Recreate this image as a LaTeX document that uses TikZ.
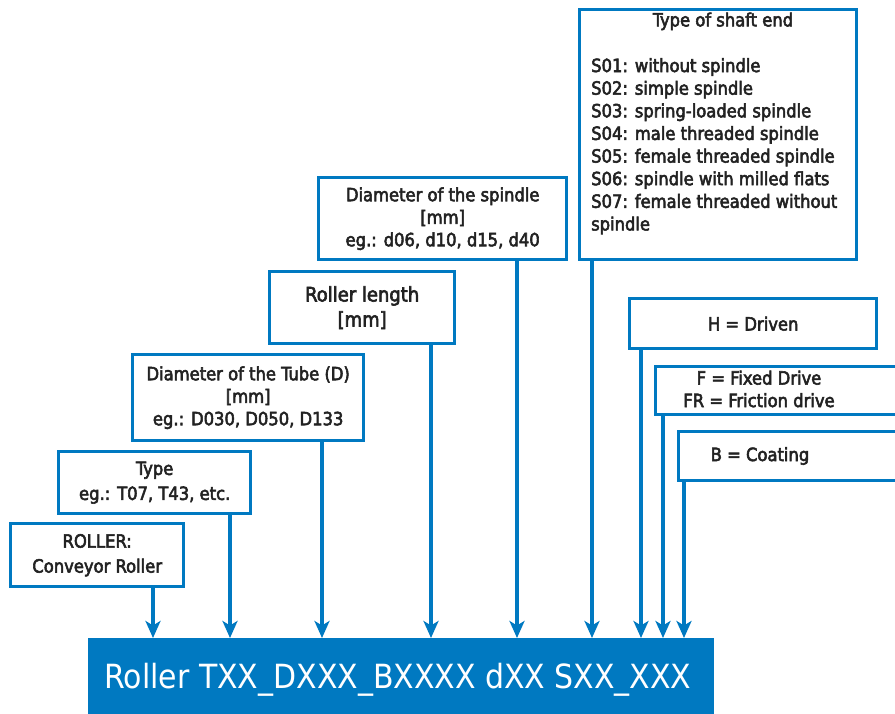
\documentclass[tikz,border=0pt]{standalone}
\usepackage{fontspec}
\setmainfont{DejaVu Sans Condensed}
\newfontfamily\bxf{DejaVu Sans Condensed}[FakeBold=3]
\usetikzlibrary{arrows.meta}
\definecolor{bl}{HTML}{0079C1}
\definecolor{tx}{HTML}{222222}
\begin{document}
\begin{tikzpicture}[x=1pt,y=-1pt,
  txt/.style={text=tx,font=\bxf\fontsize{18.2}{22.5}\selectfont},
  box/.style={draw=bl,line width=3.4pt,fill=white,inner sep=0pt,anchor=north west,
    txt,align=center},
  conn/.style={draw=bl,line width=3.2pt,-{Stealth[length=17pt,width=15pt,inset=4.5pt]}}]
\useasboundingbox (0,0) rectangle (895,713);
\clip (0,0) rectangle (895,713);
% bar
\node[fill=bl,inner sep=0pt,anchor=north west,minimum width=626pt,minimum height=76pt] (bar) at (88,638) {};
\node[text=white,font=\fontsize{33.3}{40}\selectfont,anchor=base] (code) at (398,688) {Roller TXX\_DXXX\_BXXXX dXX SXX\_XXX};
% boxes
\node[box,minimum width=173pt,minimum height=63pt,font=\bxf\fontsize{18.2}{25}\selectfont] (roller) at (9,522) {ROLLER:\\Conveyor Roller};
\node[box,minimum width=192pt,minimum height=62pt,font=\bxf\fontsize{18.2}{25}\selectfont] (type) at (57,450) {Type\\eg.: T07, T43, etc.};
\node[box,minimum width=231pt,minimum height=86pt] (tube) at (131,353) {Diameter of the Tube (D)\\{}[mm]\\eg.: D030, D050, D133};
\node[box,minimum width=185pt,minimum height=72pt,font=\bxf\fontsize{20}{25}\selectfont] (length) at (268,270) {Roller length\\{}[mm]};
\node[box,minimum width=248pt,minimum height=82pt] (spindle) at (317,176) {Diameter of the spindle\\{}[mm]\\eg.: d06, d10, d15, d40};
\node[box,minimum width=277pt,minimum height=250pt] (shaft) at (578,8) {};
\node[txt,anchor=north] (shafttitle) at (723,9) {Type of shaft end};
\node[txt,font=\bxf\fontsize{18.2}{22.63}\selectfont,anchor=north west,inner sep=0pt,align=left] (shafttext) at (591,58) {S01: without spindle\\S02: simple spindle\\S03: spring-loaded spindle\\S04: male threaded spindle\\S05: female threaded spindle\\S06: spindle with milled flats\\S07: female threaded without\\spindle};
\node[box,minimum width=247pt,minimum height=50pt] (h) at (628,297) {H = Driven};
\node[box,minimum width=260pt,minimum height=48pt,anchor=north west] (f) at (654,365) {};
\node[txt,align=center] (ftext) at (759,389) {F = Fixed Drive\\FR = Friction drive};
\node[box,minimum width=240pt,minimum height=49pt] (b) at (677,430) {};
\node[txt] (btext) at (760,456) {B = Coating};
% connectors
\draw[conn] (roller.south -| 153,0) -- (bar.north -| 153,0);
\draw[conn] (type.south -| 230,0) -- (bar.north -| 230,0);
\draw[conn] (tube.south -| 322,0) -- (bar.north -| 322,0);
\draw[conn] (length.south -| 431,0) -- (bar.north -| 431,0);
\draw[conn] (spindle.south -| 517,0) -- (bar.north -| 517,0);
\draw[conn] (shaft.south -| 592,0) -- (bar.north -| 592,0);
\draw[conn] (h.south -| 641,0) -- (bar.north -| 641,0);
\draw[conn] (f.south -| 663,0) -- (bar.north -| 663,0);
\draw[conn] (b.south -| 684,0) -- (bar.north -| 684,0);
\end{tikzpicture}
\end{document}
